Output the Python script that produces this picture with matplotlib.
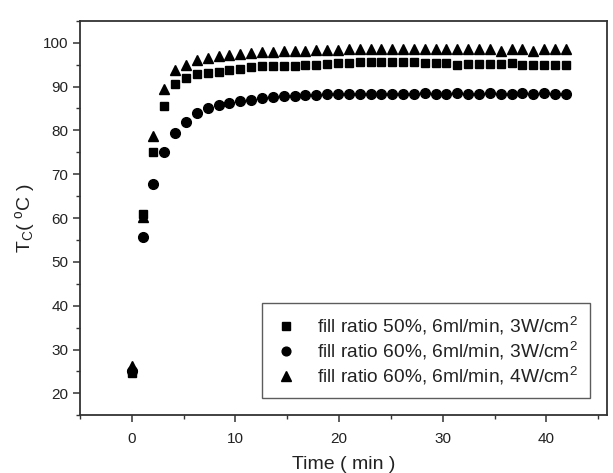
import matplotlib
matplotlib.use('Agg')
import matplotlib.pyplot as plt
from matplotlib.ticker import MultipleLocator

plt.rcParams['font.family'] = ['Liberation Sans', 'DejaVu Sans']
plt.rcParams['mathtext.fontset'] = 'custom'
plt.rcParams['mathtext.rm'] = 'Liberation Sans'
plt.rcParams['mathtext.it'] = 'Liberation Sans:italic'

# time in minutes (sampling a bit over 1 min)
time_min = [0.0, 1.05, 2.09, 3.14, 4.19, 5.23, 6.28, 7.33, 8.37, 9.42,
            10.47, 11.51, 12.56, 13.61, 14.65, 15.7, 16.75, 17.79, 18.84, 19.89,
            20.93, 21.98, 23.03, 24.07, 25.12, 26.17, 27.21, 28.26, 29.31, 30.35,
            31.4, 32.45, 33.49, 34.54, 35.59, 36.63, 37.68, 38.73, 39.77, 40.82,
            41.87]

# fill ratio 50%, 6ml/min, 3W/cm2
tc_50_3w = [24.6, 60.9, 75.1, 85.6, 90.6, 91.9, 92.9, 93.1, 93.4, 93.7,
            94.1, 94.4, 94.6, 94.6, 94.8, 94.8, 95.0, 95.0, 95.2, 95.4,
            95.4, 95.6, 95.7, 95.7, 95.6, 95.7, 95.6, 95.4, 95.4, 95.4,
            95.0, 95.2, 95.2, 95.2, 95.2, 95.4, 95.0, 95.0, 95.0, 94.9,
            94.9]

# fill ratio 60%, 6ml/min, 3W/cm2
tc_60_3w = [25.0, 55.7, 67.8, 75.0, 79.3, 82.0, 84.0, 85.1, 85.8, 86.3,
            86.7, 87.0, 87.4, 87.6, 87.8, 87.9, 88.0, 88.1, 88.2, 88.2,
            88.3, 88.3, 88.4, 88.4, 88.3, 88.4, 88.4, 88.5, 88.4, 88.4,
            88.5, 88.4, 88.4, 88.5, 88.4, 88.4, 88.5, 88.4, 88.5, 88.4,
            88.4]

# fill ratio 60%, 6ml/min, 4W/cm2
tc_60_4w = [26.2, 60.3, 78.7, 89.5, 93.8, 95.0, 96.0, 96.5, 97.0, 97.1,
            97.5, 97.7, 97.8, 97.9, 98.0, 98.1, 98.2, 98.3, 98.4, 98.4,
            98.5, 98.5, 98.5, 98.5, 98.5, 98.5, 98.5, 98.5, 98.5, 98.5,
            98.5, 98.5, 98.5, 98.5, 98.2, 98.5, 98.5, 98.2, 98.5, 98.5,
            98.5]

labels = ['fill ratio 50%, 6ml/min, 3W/cm$^2$',
          'fill ratio 60%, 6ml/min, 3W/cm$^2$',
          'fill ratio 60%, 6ml/min, 4W/cm$^2$']

fig = plt.figure(figsize=(6.13, 4.73), dpi=100)
ax = fig.add_axes([0.1305, 0.122, 0.859, 0.834])

ax.plot(time_min, tc_50_3w, 's', color='black', ms=6.3, label=labels[0])
ax.plot(time_min, tc_60_3w, 'o', color='black', ms=7, label=labels[1])
ax.plot(time_min, tc_60_4w, '^', color='black', ms=7.3, label=labels[2])

ax.set_xlim(-5, 45.8)
ax.set_ylim(15, 105)
ax.xaxis.set_major_locator(MultipleLocator(10))
ax.xaxis.set_minor_locator(MultipleLocator(5))
ax.yaxis.set_minor_locator(MultipleLocator(5))
ax.set_yticks(range(20, 101, 10))

for s in ax.spines.values():
    s.set_color('#333333')
    s.set_linewidth(1.3)
ax.tick_params(which='major', direction='out', length=5, width=1.1,
               color='#333333', labelsize=11, labelcolor='#222222')
ax.tick_params(axis='x', which='major', pad=7)
ax.tick_params(which='minor', direction='out', length=3, width=1.0, color='#333333')

ax.set_xlabel('Time ( min )', fontsize=14, color='#222222', labelpad=7)
ax.set_ylabel(r'T$_\mathrm{C}$( $^\mathrm{o}$C )', fontsize=14, color='#222222', labelpad=4)

leg = ax.legend(loc='lower right', bbox_to_anchor=(0.968, 0.043), fontsize=13.8,
                frameon=True, fancybox=False, edgecolor='#333333',
                handletextpad=1.0, borderpad=0.6, labelspacing=0.15,
                handlelength=1.3, markerscale=0.9, borderaxespad=0)
leg.get_frame().set_linewidth(1.0)
for t in leg.get_texts():
    t.set_color('#222222')

fig.savefig('out.png', dpi=100)
